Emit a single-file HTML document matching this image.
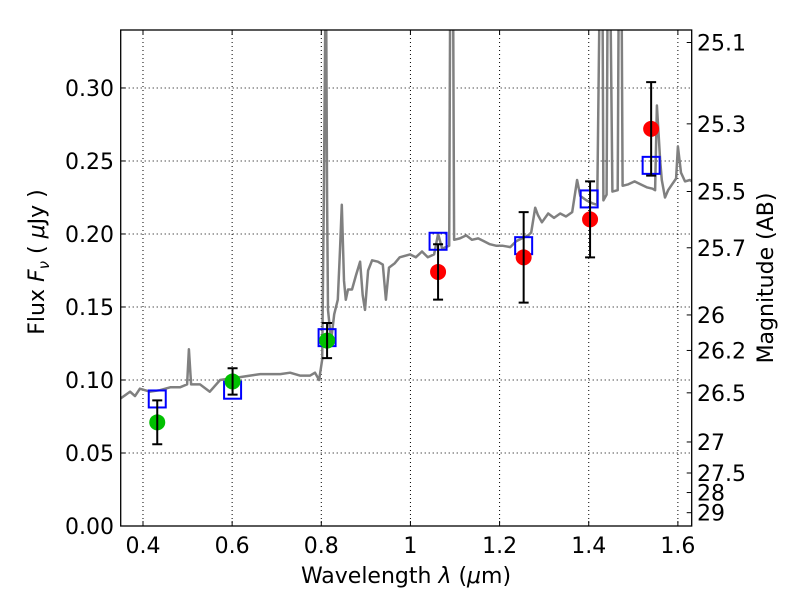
<!DOCTYPE html>
<html><head><meta charset="utf-8"><style>
body{margin:0;background:#fff}
svg text{font-family:"DejaVu Sans","Liberation Sans",sans-serif;font-size:22px;fill:#000}
</style></head><body>
<svg id="chart" width="800" height="600" xmlns="http://www.w3.org/2000/svg">
<rect width="800" height="600" fill="#fff"/>
<g id="grid"></g>
<g id="plot"></g>
<rect x="120.7" y="30" width="571" height="496" fill="none" stroke="#000" stroke-width="1.3"/>
<g id="axes"></g>
<text x="406" y="583" text-anchor="middle">Wavelength  <tspan font-style="italic">λ</tspan> (<tspan font-style="italic">μ</tspan>m)</text>
<text transform="translate(44,262) rotate(-90)" text-anchor="middle">Flux  <tspan font-style="italic">F</tspan><tspan font-style="italic" font-size="15" dy="5">ν</tspan><tspan dy="-5">  (  </tspan><tspan font-style="italic">μ</tspan>Jy )</text>
<text transform="translate(773,278) rotate(-90)" text-anchor="middle">Magnitude (AB)</text>
</svg>
<script>
const xTicks=[0.4,0.6,0.8,1.0,1.2,1.4,1.6];
const xTickLabels=["0.4","0.6","0.8","1","1.2","1.4","1.6"];
const yTicks=[0,0.05,0.10,0.15,0.20,0.25,0.30];
const yTickLabels=["0.00","0.05","0.10","0.15","0.20","0.25","0.30"];
const magTicks=[25.1,25.3,25.5,25.7,26,26.2,26.5,27,27.5,28,29];
const magTickLabels=["25.1","25.3","25.5","25.7","26","26.2","26.5","27","27.5","28","29"];
const specWave=[0.348,0.371,0.382,0.393,0.416,0.438,0.461,0.483,0.499,0.503,0.508,0.528,0.550,0.573,0.595,0.618,0.640,0.663,0.685,0.708,0.730,0.752,0.775,0.786,0.795,0.802,0.806,0.809,0.811,0.813,0.815,0.822,0.829,0.837,0.842,0.846,0.851,0.855,0.860,0.869,0.878,0.887,0.893,0.898,0.905,0.914,0.927,0.938,0.945,0.952,0.965,0.976,0.999,1.012,1.026,1.039,1.053,1.062,1.071,1.087,1.089,1.096,1.098,1.111,1.125,1.138,1.152,1.165,1.178,1.192,1.206,1.224,1.237,1.250,1.264,1.271,1.280,1.286,1.295,1.309,1.322,1.336,1.349,1.363,1.374,1.381,1.395,1.408,1.419,1.424,1.431,1.433,1.440,1.442,1.449,1.453,1.465,1.467,1.474,1.476,1.489,1.503,1.516,1.530,1.543,1.549,1.553,1.560,1.564,1.571,1.578,1.587,1.596,1.600,1.607,1.616,1.627,1.636];
const specFlux=[0.087,0.092,0.089,0.094,0.092,0.093,0.095,0.095,0.097,0.121,0.097,0.097,0.092,0.100,0.101,0.102,0.103,0.104,0.104,0.104,0.105,0.103,0.103,0.105,0.100,0.114,0.237,0.35,0.35,0.223,0.148,0.127,0.145,0.155,0.189,0.220,0.168,0.155,0.162,0.162,0.172,0.181,0.158,0.148,0.175,0.182,0.181,0.179,0.155,0.177,0.180,0.184,0.186,0.184,0.188,0.184,0.186,0.200,0.190,0.192,0.35,0.35,0.196,0.197,0.199,0.196,0.197,0.195,0.193,0.192,0.192,0.191,0.195,0.197,0.199,0.201,0.218,0.213,0.208,0.214,0.211,0.214,0.212,0.215,0.237,0.226,0.223,0.221,0.220,0.35,0.35,0.223,0.227,0.35,0.35,0.229,0.230,0.35,0.35,0.233,0.234,0.236,0.234,0.232,0.231,0.230,0.288,0.251,0.237,0.225,0.230,0.234,0.238,0.260,0.242,0.236,0.237,0.235];
const modelWave=[0.432,0.601,0.813,1.062,1.254,1.401,1.540];
const modelFlux=[0.087,0.093,0.129,0.195,0.192,0.224,0.247];
const greenWave=[0.432,0.601,0.813];
const greenFlux=[0.071,0.099,0.127];
const greenErr=[0.015,0.009,0.012];
const redWave=[1.062,1.254,1.403,1.540];
const redFlux=[0.174,0.184,0.210,0.272];
const redErr=[0.019,0.031,0.026,0.032];

const X0=120.7,X1=691.7,Y0=526,Y1=30,xmin=0.35,xmax=1.631,ymin=0,ymax=0.3397;
const sx=v=>X0+(v-xmin)/(xmax-xmin)*(X1-X0);
const sy=v=>Y0-(v-ymin)/(ymax-ymin)*(Y0-Y1);
const magToY=m=>sy(Math.pow(10,(23.9-m)/2.5));
const NS="http://www.w3.org/2000/svg";
function mk(tag,attrs,parent){const e=document.createElementNS(NS,tag);for(const k in attrs)e.setAttribute(k,attrs[k]);parent.appendChild(e);return e;}
const grid=document.getElementById('grid'),plot=document.getElementById('plot'),axes=document.getElementById('axes');

xTicks.forEach((t,i)=>{
  const x=sx(t);
  const g=mk('line',{x1:x,x2:x,y1:Y1,y2:Y0,stroke:'#000','stroke-width':1,'stroke-dasharray':'1,3'},grid);
  
  
  const tk=mk('line',{x1:x,x2:x,y1:Y0,y2:Y0-5,stroke:'#000'},axes);
  
  
  const tk2=mk('line',{x1:x,x2:x,y1:Y1,y2:Y1+5,stroke:'#000'},axes);
  
  
  const tx=mk('text',{x:x,y:553,'text-anchor':'middle'},axes);tx.textContent=xTickLabels[i];
  
  
});
yTicks.forEach((t,i)=>{
  const y=sy(t);
  const g=mk('line',{x1:X0,x2:X1,y1:y,y2:y,stroke:'#000','stroke-width':1,'stroke-dasharray':'1,3'},grid);
  
  
  const tk=mk('line',{x1:X0,x2:X0+5,y1:y,y2:y,stroke:'#000'},axes);
  
  
  const tx=mk('text',{x:114,y:y+8,'text-anchor':'end'},axes);tx.textContent=yTickLabels[i];
  
  
});
magTicks.forEach((m,i)=>{
  const y=magToY(m);
  const tk=mk('line',{x1:X1,x2:X1-5,y1:y,y2:y,stroke:'#000'},axes);
  
  
  const tx=mk('text',{x:697,y:y+8},axes);tx.textContent=magTickLabels[i];
  
  
});

const clip=mk('clipPath',{id:'clipP'},plot);
mk('rect',{x:X0,y:Y1,width:X1-X0,height:Y0-Y1},clip);
const inner=mk('g',{'clip-path':'url(#clipP)'},plot);
const d=specWave.map((w,i)=>(i?'L':'M')+sx(w).toFixed(1)+','+sy(specFlux[i]).toFixed(1)).join(' ');
const spec=mk('path',{d:d,fill:'none',stroke:'#808080','stroke-width':2.5,'stroke-linejoin':'round'},inner);



modelWave.forEach((w,i)=>{
  const s=mk('rect',{x:sx(w)-8.5,y:sy(modelFlux[i])-8.5,width:17,height:17,fill:'none',stroke:'#0000ff','stroke-width':2},plot);
  
  
});
function pts(wv,fl,er,col,name){
  wv.forEach((w,i)=>{
    const x=sx(w),y=sy(fl[i]),yt=sy(fl[i]+er[i]),yb=sy(fl[i]-er[i]);
    const c=mk('circle',{cx:x,cy:y,r:8,fill:col},plot);
    
    
    const e=mk('path',{d:`M${x},${yt}V${yb}M${x-5},${yt}H${x+5}M${x-5},${yb}H${x+5}`,stroke:'#000','stroke-width':2,fill:'none'},plot);
    
    
  });
}
pts(greenWave,greenFlux,greenErr,'#00c000','green-observed');
pts(redWave,redFlux,redErr,'#ff0000','red-observed');
</script>
</body></html>
